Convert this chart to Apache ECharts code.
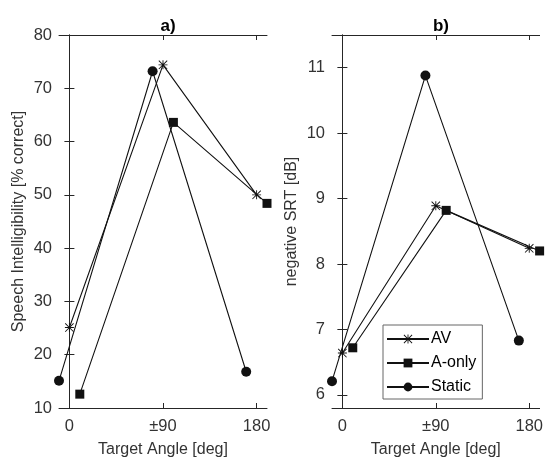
<!DOCTYPE html>
<html>
<head>
<meta charset="utf-8">
<script src="https://cdn.jsdelivr.net/npm/echarts@6/dist/echarts.min.js"></script>
<style>
  html, body { margin: 0; padding: 0; background: #fff; }
  #main { width: 546px; height: 463px; }
</style>
</head>
<body>
<div id="main"></div>
<script>
// angle positions (deg), each condition shifted a little so markers don't overlap
var angleStatic = [-10, 80, 170];
var angleAV = [0, 90, 180];
var angleAonly = [10, 100, 190];
var angleTicks = [0, 90, 180];
var angleTickLabels = ['0', '\u00b190', '180'];

// panel a) speech intelligibility [% correct]
var siAV = [25.1, 74.4, 50.0];
var siAonly = [12.6, 63.6, 48.4];
var siStatic = [15.1, 73.2, 16.8];
var siTicks = [10, 20, 30, 40, 50, 60, 70, 80];

// panel b) negative SRT [dB]
var srtAV = [6.64, 8.89, 8.24];
var srtAonly = [6.72, 8.82, 8.2];
var srtStatic = [6.21, 10.88, 6.83];
var srtTicks = [6, 7, 8, 9, 10, 11];

var ink = '#333';
var font = 'Liberation Sans, Arial, sans-serif';
var asterisk = 'path://M9 0L11 0L11 20L9 20Z M0 9L20 9L20 11L0 11Z M0 1.4L1.4 0L20 18.6L18.6 20Z M18.6 0L20 1.4L1.4 20L0 18.6Z';

function pairs(xs, ys) {
	var out = [];
	for (var i = 0; i < xs.length; i++) {
		out.push([xs[i], ys[i]]);
	}
	return out;
}

function xAxes(grid) {
	var base = {
		type : 'value',
		gridIndex : grid,
		min : -10,
		max : 190,
		splitLine : { show : false },
		axisLine : { show : true, lineStyle : { color : '#262626', width : 1 } },
		axisTick : { show : true, inside : true, length : 5, customValues : angleTicks, lineStyle : { color : '#262626' } }
	};
	var bottom = Object.assign({}, base, {
		position : 'bottom',
		name : 'Target Angle [deg]',
		nameLocation : 'middle',
		nameGap : 34,
		nameTextStyle : { fontFamily : font, fontSize : 16, color : ink },
		axisLabel : {
			customValues : angleTicks,
			margin : 10,
			fontFamily : font,
			fontSize : 16.5,
			color : ink,
			formatter : function (v) {
				var k = angleTicks.indexOf(v);
				return k >= 0 ? angleTickLabels[k] : '';
			}
		}
	});
	var top = Object.assign({}, base, { position : 'top', axisLabel : { show : false } });
	return [bottom, top];
}

function yAxes(grid, min, max, ticks, name) {
	var base = {
		type : 'value',
		gridIndex : grid,
		min : min,
		max : max,
		splitLine : { show : false },
		axisLine : { show : true, lineStyle : { color : '#262626', width : 1 } },
		axisTick : { show : true, inside : true, length : 5, customValues : ticks, lineStyle : { color : '#262626' } }
	};
	var left = Object.assign({}, base, {
		position : 'left',
		name : name,
		nameLocation : 'middle',
		nameGap : 32,
		nameTextStyle : { fontFamily : font, fontSize : 16, color : ink },
		axisLabel : { customValues : ticks, margin : 7, fontFamily : font, fontSize : 16.5, color : ink }
	});
	var right = Object.assign({}, base, { position : 'right', axisLabel : { show : false } });
	return [left, right];
}

function lineSeries(name, symbol, size, grid, xs, ys) {
	return {
		name : name,
		type : 'line',
		xAxisIndex : grid * 2,
		yAxisIndex : grid * 2,
		data : pairs(xs, ys),
		symbol : symbol,
		symbolSize : size,
		showAllSymbol : true,
		lineStyle : { color : '#111', width : 1.1 },
		itemStyle : { color : '#111' },
		z : 3
	};
}

var myChart = echarts.init(document.getElementById('main'));
var option = {
	backgroundColor : '#fff',
	animation : false,
	title : [
		{ text : 'a)', left : 163, top : 13, textAlign : 'center',
		  textStyle : { fontFamily : font, fontSize : 17, fontWeight : 'bold', color : '#000' } },
		{ text : 'b)', left : 436, top : 13, textAlign : 'center',
		  textStyle : { fontFamily : font, fontSize : 17, fontWeight : 'bold', color : '#000' } }
	],
	grid : [
		{ left : 59, top : 35, width : 208, height : 377 },
		{ left : 332, top : 35, width : 208, height : 377 }
	],
	xAxis : xAxes(0).concat(xAxes(1)),
	yAxis : yAxes(0, 10, 80, siTicks, 'Speech Intelligibility [% correct]')
		.concat(yAxes(1, 5.8, 11.5, srtTicks, 'negative SRT [dB]')),
	legend : {
		data : ['AV', 'A-only', 'Static'],
		orient : 'vertical',
		left : 383,
		top : 325,
		padding : [6, 6, 4, 3],
		itemWidth : 42,
		itemHeight : 11,
		itemGap : 8,
		backgroundColor : '#fff',
		borderColor : '#666',
		borderWidth : 1,
		borderRadius : 0,
		textStyle : { fontFamily : font, fontSize : 16, lineHeight : 16, color : '#000', padding : [0, 0, 0, -3] }
	},
	series : [
		lineSeries('AV', asterisk, 9, 0, angleAV, siAV),
		lineSeries('A-only', 'rect', 9, 0, angleAonly, siAonly),
		lineSeries('Static', 'circle', 10, 0, angleStatic, siStatic),
		lineSeries('AV', asterisk, 9, 1, angleAV, srtAV),
		lineSeries('A-only', 'rect', 9, 1, angleAonly, srtAonly),
		lineSeries('Static', 'circle', 10, 1, angleStatic, srtStatic)
	]
};
myChart.setOption(option, true);
</script>
</body>
</html>
